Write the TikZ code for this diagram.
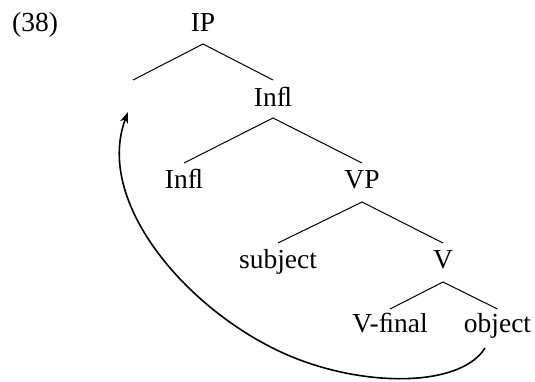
\documentclass[tikz,border=0pt]{standalone}
\usepackage{fontspec}
\setmainfont{Liberation Serif}
\usetikzlibrary{arrows.meta}
\begin{document}
\begin{tikzpicture}[x=1pt,y=1pt,
  lab/.style={anchor=base,inner sep=0pt,font=\fontsize{27.5}{32}\selectfont},
  branch/.style={line width=1pt},
  move/.style={line width=1.6pt,-{Stealth[length=11pt,width=8pt,inset=3pt]}}]
\useasboundingbox (0,0) rectangle (535,381);
\node[lab,anchor=base west] (ex) at (12,349) {(38)};
\node[lab] (IP) at (203,349) {IP};
\coordinate (spec) at (133,301);
\node[lab] (Ibar) at (273,275) {In^^^^fb02};
\node[lab] (I) at (184,193) {In^^^^fb02};
\node[lab] (VP) at (362,193) {VP};
\node[lab] (subj) at (278,113) {subject};
\node[lab] (Vbar) at (443,113) {V};
\node[lab] (Vf) at (390,49) {V-^^^^fb01nal};
\node[lab] (obj) at (497.5,49) {object};
\draw[branch] (spec) -- ([yshift=-12pt]IP.base) -- ([yshift=26pt]Ibar.base);
\draw[branch] ([yshift=25pt]I.base) -- ([yshift=-12pt]Ibar.base) -- ([yshift=25pt]VP.base);
\draw[branch] ([yshift=25pt]subj.base) -- ([yshift=-14pt]VP.base) -- ([yshift=25pt]Vbar.base);
\draw[branch] ([yshift=23pt]Vf.base) -- ([yshift=-14pt]Vbar.base) -- ([yshift=23pt]obj.base);
\draw[move] ([shift={(-12.5pt,-16pt)}]obj.base) .. controls (462,-4) and (375,-7) .. (300,21)
  .. controls (197,59.5) and (92.6,174.5) .. ([shift={(-5pt,-32pt)}]spec);
\end{tikzpicture}
\end{document}
